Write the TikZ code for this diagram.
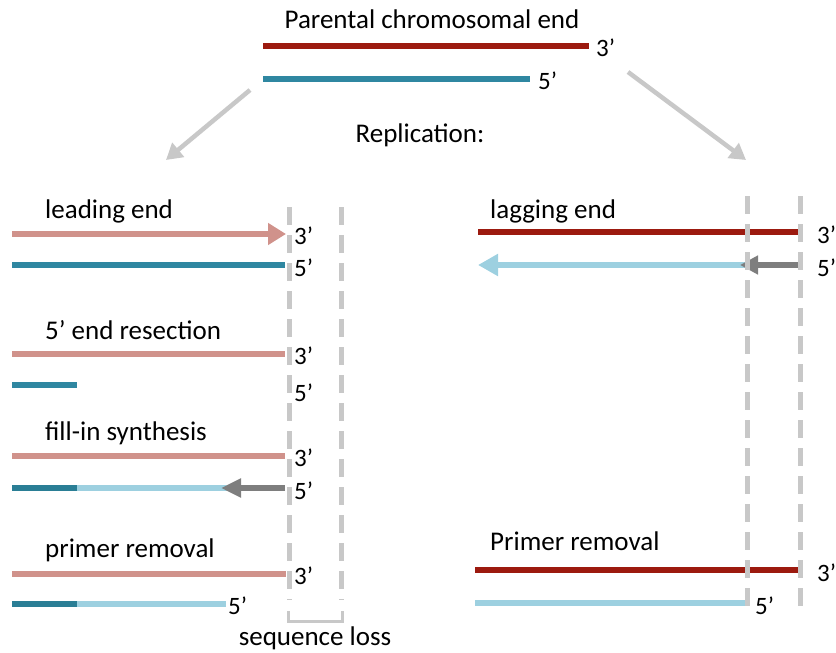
\documentclass[tikz,border=0pt]{standalone}
\usepackage{fontspec}
\setmainfont{Carlito}
\usetikzlibrary{arrows.meta}
\definecolor{dred}{HTML}{9C1A0F}
\definecolor{teal1}{HTML}{2F87A1}
\definecolor{teal2}{HTML}{2A7E95}
\definecolor{pink1}{HTML}{D0928B}
\definecolor{lblue}{HTML}{9DD0E0}
\definecolor{dgray}{HTML}{7E7E7E}
\definecolor{lgray}{HTML}{C8C8C8}
\tikzset{
  strand/.style={line width=6.5pt},
  lbl/.style={anchor=west, inner sep=0pt, font=\fontsize{27}{32}\selectfont},
  endl/.style={anchor=west, inner sep=0pt, font=\fontsize{25}{30}\selectfont},
  dashline/.style={lgray, line width=5pt, dash pattern=on 18pt off 10pt},
  bigarrow/.style={lgray, line width=4.5pt, -{Triangle[length=16pt,width=18pt]}},
}
\begin{document}
\begin{tikzpicture}[x=1pt,y=-1pt]
\useasboundingbox (0,0) rectangle (836,653);
\clip (0,0) rectangle (836,653);
% top
\node[lbl, anchor=center] (title) at (432,19) {Parental chromosomal end};
\coordinate (p1a) at (263,46); \coordinate (p1b) at (589,46);
\coordinate (p2a) at (263,79); \coordinate (p2b) at (530,79);
\draw[strand, dred] (p1a) -- (p1b);
\draw[strand, teal1] (p2a) -- (p2b);
\node[endl] (t3) at (596,48) {3’};
\node[endl] (t5) at (538,81) {5’};
\node[lbl, anchor=center] (repl) at (420,135) {Replication:};
\coordinate (ga1) at (250,90); \coordinate (ga2) at (166,160);
\coordinate (gb1) at (628,72); \coordinate (gb2) at (746,160);
\draw[bigarrow] (ga1) -- (ga2);
\draw[bigarrow] (gb1) -- (gb2);

% left panel
\node[lbl] (lead) at (45,211) {leading end};
\coordinate (l1a) at (12,234); \coordinate (l1b) at (286,234);
\draw[strand, pink1, -{Triangle[length=18pt,width=21pt]}] (l1a) -- (l1b);
\node[endl] (l13) at (294,236) {3’};
\coordinate (l2a) at (12,265); \coordinate (l2b) at (285,265);
\draw[strand, teal1] (l2a) -- (l2b);
\node[endl] (l25) at (294,268) {5’};

\node[lbl] (resec) at (45,330) {5’ end resection};
\coordinate (l3a) at (12,354); \coordinate (l3b) at (285,354);
\draw[strand, pink1] (l3a) -- (l3b);
\node[endl] (l33) at (294,356) {3’};
\coordinate (l4a) at (12,385); \coordinate (l4b) at (77,385);
\draw[strand, teal1] (l4a) -- (l4b);
\node[endl] (l45) at (294,393) {5’};

\node[lbl] (fill) at (45,433) {fill-in synthesis};
\coordinate (l5a) at (12,456); \coordinate (l5b) at (285,456);
\draw[strand, pink1] (l5a) -- (l5b);
\node[endl] (l53) at (294,458) {3’};
\coordinate (l6a) at (12,488); \coordinate (l6b) at (77,488);
\coordinate (l6c) at (230,488); \coordinate (l6d) at (285,488);
\draw[strand, lblue] (l6b) -- (l6c);
\draw[strand, teal2] (l6a) -- (l6b);
\coordinate (l6e) at (221,488);
\draw[strand, dgray, -{Triangle[length=20pt,width=18pt]}] (l6d) -- (l6e);
\node[endl] (l65) at (294,491) {5’};

\node[lbl] (prim) at (45,550) {primer removal};
\coordinate (l7a) at (12,574); \coordinate (l7b) at (286,574);
\draw[strand, pink1] (l7a) -- (l7b);
\node[endl] (l73) at (294,576) {3’};
\coordinate (l8a) at (12,604); \coordinate (l8b) at (77,604);
\coordinate (l8c) at (226,604);
\draw[strand, lblue] (l8b) -- (l8c);
\draw[strand, teal2] (l8a) -- (l8b);
\node[endl] (l85) at (228,606) {5’};

\coordinate (d1a) at (289,207); \coordinate (d1b) at (289,600);
\coordinate (d2a) at (341,207); \coordinate (d2b) at (341,600);
\draw[dashline] (d1a) -- (d1b);
\draw[dashline] (d2a) -- (d2b);
\coordinate (b1) at (288,611); \coordinate (b2) at (342,611);
\draw[lgray, line width=3pt] (b1) -- ++(0,10) -| (b2);
\node[lbl, anchor=center] (loss) at (315,638) {sequence loss};

% right panel
\node[lbl] (lag) at (490,211) {lagging end};
\coordinate (r1a) at (478,232); \coordinate (r1b) at (801,232);
\draw[strand, dred] (r1a) -- (r1b);
\node[endl] (r13) at (817,235) {3’};
\coordinate (r2a) at (748,265); \coordinate (r2b) at (478,265);
\draw[strand, lblue, -{Triangle[length=20pt,width=21pt]}] (r2a) -- (r2b);
\coordinate (r2c) at (801,265); \coordinate (r2d) at (740,265);
\draw[strand, dgray, -{Triangle[length=18pt,width=18pt]}] (r2c) -- (r2d);
\node[endl] (r25) at (817,268) {5’};

\node[lbl] (prim2) at (490,541) {Primer removal};
\coordinate (r3a) at (475,570); \coordinate (r3b) at (800,570);
\draw[strand, dred] (r3a) -- (r3b);
\node[endl] (r33) at (817,573) {3’};
\coordinate (r4a) at (475,603); \coordinate (r4b) at (746,603);
\draw[strand, lblue] (r4a) -- (r4b);
\node[endl] (r45) at (755,606) {5’};

\coordinate (d3a) at (747,196); \coordinate (d3b) at (747,612);
\coordinate (d4a) at (800,196); \coordinate (d4b) at (800,612);
\draw[dashline] (d3a) -- (d3b);
\draw[dashline] (d4a) -- (d4b);
\end{tikzpicture}
\end{document}
